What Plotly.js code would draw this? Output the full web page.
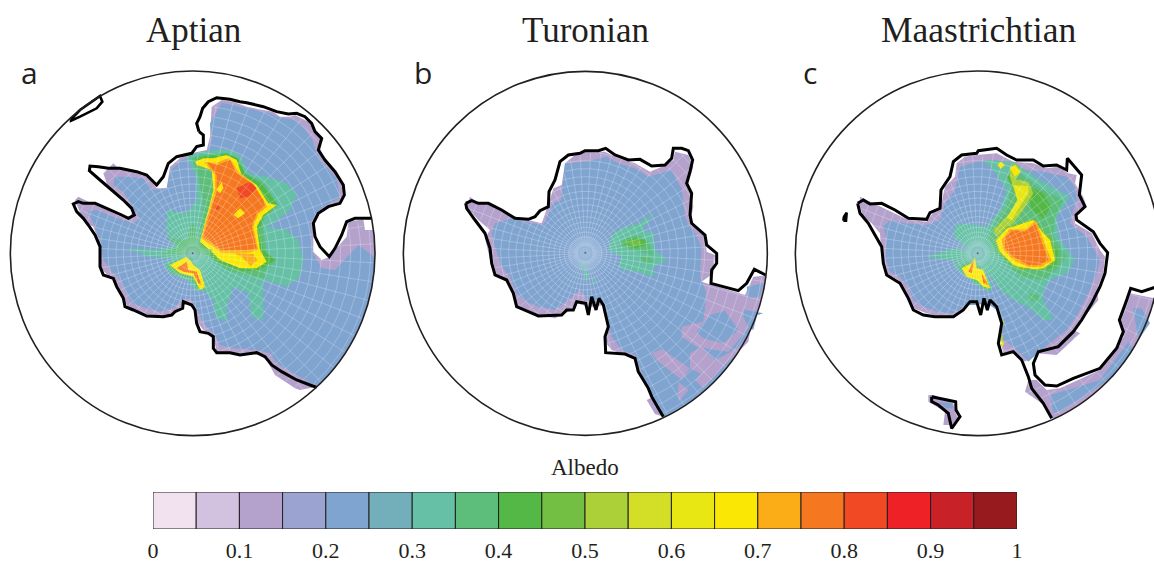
<!DOCTYPE html>
<html><head><meta charset="utf-8">
<script src="https://cdn.plot.ly/plotly-3.0.1.min.js"></script>
<style>html,body{margin:0;padding:0;background:#fff}#c{width:1154px;height:564px}</style>
</head><body><div id="c"></div><script>
// ---- colour bar ----
const binColors=['#f2e1ee','#d2c2df','#b4a2cd','#9ba3d0','#80a4d0','#73aebb','#65c0a6','#5dbd7a','#54b847','#72bf44','#acd037','#d2df26','#e8e714','#fbe704','#fbad18','#f57821','#f04923','#ee2126','#c92128','#971b1e'];
const binCentres=[.025,.075,.125,.175,.225,.275,.325,.375,.425,.475,.525,.575,.625,.675,.725,.775,.825,.875,.925,.975];
const tickValues=[0,.1,.2,.3,.4,.5,.6,.7,.8,.9,1];
const tickLabels=['0','0.1','0.2','0.3','0.4','0.5','0.6','0.7','0.8','0.9','1'];
const L=2,B=4,T=6,G=7,H=8,M=9,Y=13,O=14,R=15,D=16;
// ---- map read-offs (3x crop coordinates), circle centres ----
const circleA=[578,580,547],circleB=[571,580,546],circleC=[593,580,547];
// Aptian
const aCoast1=[[597,215],[590,190],[600,170],[608,145],[625,125],[650,113],[690,118],[720,125],[740,128],[790,140],[830,155],[865,162],[890,160],[915,170],[935,190],[945,215],[965,235],[955,270],[975,300],[1005,335],[1030,375],[1033,405],[1020,430],[985,440],[955,460],[940,490],[945,530],[960,560],[988,590],[1005,565],[1025,525],[1040,485],[1065,475],[1113,475]];
const aCoast2=[[950,982],[930,975],[890,960],[845,935],[815,915],[795,890],[770,878],[720,885],[690,878],[650,878],[640,865],[640,830],[625,820],[600,815],[590,790],[585,750],[575,735],[550,725],[548,745],[525,755],[515,765],[490,770],[440,768],[400,750],[375,740],[370,715],[350,680],[340,655],[310,645],[300,620],[300,560],[285,525],[265,495],[250,475],[230,455],[220,432],[235,425],[250,430],[285,430],[320,445],[365,465],[385,475],[403,465],[395,445],[370,420],[335,390],[300,360],[268,332],[270,318],[295,320],[325,325],[360,325],[410,335],[440,345],[470,375],[490,350],[505,310],[530,290],[575,280],[590,260],[610,255],[610,225],[597,215]];
const aIsland=[[213,178],[240,150],[300,108],[307,125],[290,145],[240,170],[213,182],[213,178]];
const aLilac1=[[635,140],[665,120],[700,125],[740,140],[790,150],[820,155],[840,170],[870,170],[885,165],[925,185],[955,220],[970,235],[958,260],[975,300],[1005,340],[1030,380],[1025,425],[1000,435],[955,460],[940,500],[940,575],[965,600],[990,590],[1005,570],[1040,530],[1045,485],[1090,478],[1095,510],[1118,510]];
const aLilac2=[[950,980],[900,990],[885,985],[825,945],[800,900],[770,880],[740,885],[690,880],[650,875],[640,830],[610,810],[595,790],[585,750],[570,735],[550,735],[520,760],[490,775],[440,765],[390,750],[370,720],[350,670],[330,650],[300,625],[300,590],[295,540],[280,500],[260,490],[245,470],[225,420],[235,410],[285,435],[345,460],[390,470],[400,450],[360,410],[320,370],[310,340],[340,310],[355,325],[410,335],[440,345],[470,385],[500,385],[510,320],[540,295],[575,280],[620,270],[630,230],[635,140]];
const aBlue1=[[650,155],[665,128],[740,145],[810,160],[830,170],[885,180],[905,195],[935,235],[948,275],[965,305],[1010,355],[1020,415],[975,437],[945,462],[932,490],[938,578],[965,625],[1005,630],[1075,555],[1122,590]];
const aBlue2=[[950,975],[935,972],[890,945],[830,910],[810,880],[770,870],[700,865],[660,855],[645,825],[620,800],[605,780],[590,745],[570,715],[545,720],[520,745],[480,755],[440,745],[395,730],[375,690],[355,650],[335,635],[310,600],[300,540],[280,490],[262,455],[290,450],[350,475],[400,490],[420,475],[400,445],[370,395],[340,375],[345,350],[380,350],[430,355],[460,390],[500,385],[512,330],[545,300],[575,290],[620,280],[635,240],[630,190],[650,155]];
const aBands=[
[T,[[560,290],[600,275],[680,268],[720,285],[745,340],[800,350],[860,370],[890,405],[870,450],[820,490],[800,500],[860,510],[895,540],[910,600],[900,650],[860,680],[790,660],[790,700],[790,780],[755,770],[745,700],[700,680],[680,740],[680,785],[645,770],[640,720],[610,690],[590,640],[540,600],[450,590],[380,565],[470,570],[530,555],[500,520],[500,450],[560,460],[590,420],[590,350]]],
[G,[[575,295],[600,285],[680,280],[710,295],[730,340],[790,365],[835,435],[790,480],[790,510],[800,580],[830,600],[790,640],[800,655],[760,650],[680,630],[640,600],[610,575],[590,560],[585,500],[575,490],[560,540],[500,535],[540,560],[480,585],[590,570],[610,430],[595,350]]],
[H,[[585,300],[610,290],[680,280],[715,295],[735,340],[785,372],[832,432],[792,470],[778,510],[790,570],[825,600],[775,632],[720,632],[650,605],[600,560],[625,450],[640,390],[635,330]]],
[Y,[[585,305],[610,295],[640,295],[680,285],[710,300],[725,345],[770,375],[805,430],[830,435],[790,465],[770,500],[780,570],[800,605],[770,625],[720,625],[660,600],[640,580],[600,545],[625,450],[640,390],[635,330],[590,315]]],
[O,[[612,305],[650,308],[688,293],[715,335],[762,372],[795,425],[802,440],[775,462],[760,500],[775,570],[745,578],[665,578],[604,535],[633,430],[645,390],[645,345]]],
[R,[[620,305],[650,315],[690,300],[710,340],[760,375],[790,420],[795,440],[770,460],[755,500],[770,565],[745,570],[665,570],[610,530],[640,430],[650,390],[650,345]]],
[Y,[[650,390],[665,365],[670,385],[660,400]]],
[Y,[[700,465],[720,445],[735,460],[715,475]]],
[D,[[710,385],[750,365],[770,385],[745,410],[720,415]]],
[D,[[645,440],[655,435],[660,445],[650,450]]],
[O,[[700,580],[760,582],[772,600],[752,618],[725,590]]],
[T,[[490,610],[540,590],[590,590],[620,690],[590,695],[560,660],[510,640]]],
[G,[[500,615],[540,595],[575,590],[618,685],[600,692],[570,655],[520,640]]],
[Y,[[510,615],[540,600],[560,590],[570,600],[580,615],[600,630],[615,680],[600,690],[580,650],[540,640]]],
[R,[[530,625],[560,605],[565,630],[590,635],[605,675],[595,670],[580,640],[550,635]]],
[G,[[490,582],[560,575],[580,490],[585,560],[640,570],[600,585]]]
];
const aPole=[[578,580]];
// Turonian
const bCoast1=[[212,430],[230,422],[250,430],[280,430],[320,450],[360,475],[400,478],[420,470],[435,452],[460,440],[462,395],[480,360],[495,305],[520,285],[555,280],[570,272],[610,272],[632,265],[660,285],[700,300],[735,298],[770,318],[810,315],[830,295],[835,265],[860,265],[880,272],[893,300],[885,335],[875,370],[890,400],[885,465],[890,490],[930,525],[935,555],[965,580],[965,610],[950,630],[948,670],[1030,692],[1055,670],[1078,628],[1112,645]];
const bCoast2=[[805,1070],[790,1045],[770,1010],[760,985],[730,935],[720,895],[690,882],[632,878],[630,830],[640,800],[625,735],[612,715],[603,750],[590,710],[580,765],[572,730],[545,725],[535,750],[515,750],[500,765],[430,768],[400,755],[365,740],[355,700],[335,660],[300,645],[290,610],[285,565],[270,520],[240,480],[215,445],[212,430]];
const bLilac1=[[225,410],[250,430],[290,435],[345,465],[400,480],[440,490],[465,420],[475,385],[500,375],[510,310],[540,285],[570,275],[630,275],[670,295],[720,310],[765,335],[800,320],[835,300],[840,275],[880,285],[895,320],[880,370],[895,440],[885,490],[930,530],[935,575],[960,585],[955,640],[920,665],[1050,705],[1075,650],[1112,645]];
const bLilac2=[[805,1070],[780,1062],[755,1020],[775,1010],[745,960],[725,935],[720,890],[690,885],[650,870],[630,845],[640,800],[625,735],[600,740],[580,740],[545,730],[520,755],[480,775],[430,765],[400,750],[360,735],[350,690],[330,655],[305,650],[290,620],[270,535],[285,510],[250,480],[215,440],[225,410]];
const bBlue1=[[300,490],[350,475],[410,490],[445,495],[475,430],[498,420],[510,310],[570,305],[635,290],[670,310],[720,325],[760,350],[830,330],[850,370],[860,385],[870,470],[880,495],[895,510],[920,560],[915,650],[935,700],[1000,740],[1105,760]];
const bBlue2=[[805,1065],[780,1020],[745,950],[720,885],[680,870],[650,830],[630,760],[620,720],[590,735],[555,690],[520,720],[480,750],[430,740],[395,725],[365,700],[345,650],[320,620],[300,560],[290,520],[300,490]];
const bPatches=[
[[935,685],[1052,708],[1045,770],[1062,800],[1035,835],[1000,875],[960,870],[905,860],[860,830],[860,800],[925,785],[930,745]],
[[770,880],[800,868],[885,925],[860,960],[835,940],[790,905]],
[[885,880],[920,860],[960,900],[925,945],[885,925]],
[[850,965],[880,990],[850,1025]],
[[960,900],[1000,880],[1030,860],[1065,815],[1060,845],[1000,905],[960,945],[925,985],[900,960]]
];
const bBluePatches=[[[945,765],[990,752],[1030,810],[985,850],[925,835],[905,815]],[[1055,680],[1105,670],[1095,710],[1060,715]],[[1045,770],[1090,750],[1075,810],[1060,800]]];
const bBands=[
[T,[[650,525],[680,505],[730,490],[780,458],[740,510],[775,520],[780,570],[815,600],[770,625],[780,650],[720,635],[670,625],[680,590],[640,570]]],
[G,[[670,555],[690,535],[730,525],[760,545],[775,585],[750,580],[710,570]]],
[H,[[680,550],[720,535],[750,540],[755,555],[720,565]]],
[M,[[695,550],[720,540],[745,545],[720,558]]],
[G,[[730,590],[760,590],[780,605],[750,610]]],
[T,[[572,600],[580,655],[565,655]]],
[T,[[585,640],[605,675],[595,670]]],
[T,[[550,625],[565,600],[562,625]]]
];
const bPole=[[571,578]];
// Maastrichtian
const cCoast1=[[233,430],[250,420],[270,432],[305,430],[345,450],[385,475],[440,478],[450,458],[480,445],[483,390],[510,350],[520,305],[545,285],[590,280],[595,272],[650,265],[680,285],[710,300],[760,300],[790,318],[830,315],[860,330],[862,295],[905,345],[898,405],[915,440],[888,465],[890,480],[940,515],[960,550],[983,578],[975,640],[960,680],[935,730],[905,780],[880,815],[835,860],[775,875],[760,910],[765,945],[795,975],[830,978],[880,955],[960,925],[1010,865],[1030,815],[1018,780],[1040,720],[1052,685],[1085,695],[1125,682]];
const cCoast2=[[815,1075],[790,1030],[755,985],[745,950],[725,900],[700,875],[665,885],[655,850],[665,790],[650,740],[630,720],[622,750],[612,715],[602,765],[590,725],[570,725],[550,750],[520,770],[465,770],[430,765],[400,750],[385,715],[360,670],[320,645],[310,610],[305,560],[265,490],[240,460],[233,430]];
const cIsland1=[[455,1010],[527,1025],[528,1050],[540,1070],[515,1105],[505,1060],[475,1035],[455,1025],[455,1010]];
const cIsland2=[[190,482],[192,470],[200,458],[198,482],[190,482]];
const cLilacIsland=[[445,1005],[462,1005],[520,1030],[525,1055],[535,1075],[515,1095],[490,1095],[495,1055],[445,1025]];
const cBlueIsland=[[475,1025],[515,1030],[520,1045],[500,1045]];
const cLilac=[[240,410],[260,420],[305,440],[345,460],[385,480],[440,485],[465,450],[480,450],[495,380],[525,350],[530,310],[555,290],[590,285],[650,280],[700,305],[760,310],[800,325],[835,320],[865,340],[890,345],[885,370],[910,410],[920,440],[885,465],[885,490],[935,520],[960,570],[975,590],[970,640],[950,690],[955,720],[930,750],[880,810],[900,820],[830,885],[770,880],[735,905],[700,875],[670,880],[660,840],[665,790],[650,740],[620,730],[590,725],[565,735],[540,760],[500,775],[440,760],[400,745],[380,700],[355,660],[320,640],[305,590],[300,520],[275,490],[250,470],[240,440],[240,410]];
const cBlue=[[330,480],[375,490],[440,495],[480,480],[495,430],[525,390],[540,320],[590,305],[650,300],[700,325],[790,335],[860,350],[885,380],[890,420],[880,450],[870,490],[920,530],[945,575],[960,600],[950,640],[930,690],[895,760],[860,810],[790,865],[745,905],[700,860],[670,840],[660,780],[650,750],[620,730],[590,735],[560,735],[520,760],[470,755],[430,740],[400,720],[385,680],[360,650],[330,635],[315,590],[320,540],[310,500],[330,480]];
const cStrip1=[[1050,700],[1125,715]];
const cStrip2=[[815,1075],[800,1040],[735,995],[745,960],[770,960],[800,990],[840,985],[960,930],[1030,830],[1020,780],[1050,700]];
const cStripBlue=[[[1060,745],[1085,745],[1110,790],[1075,840]],[[960,960],[1045,845],[1060,870],[1000,950],[850,1050],[820,1060],[810,1005],[880,985]]];
const cBands=[
[T,[[610,300],[700,305],[780,360],[870,410],[830,470],[835,530],[885,600],[860,640],[810,660],[790,690],[790,720],[820,780],[790,780],[750,745],[700,720],[660,690],[640,660],[600,620],[530,605],[440,590],[520,565],[570,570],[520,530],[530,490],[590,495],[620,500],[660,450],[680,390],[640,330]]],
[G,[[625,530],[650,480],[680,440],[695,380],[680,340],[720,340],[780,385],[850,420],[825,470],[820,530],[860,590],[830,630],[790,660],[720,650],[680,610],[640,570]]],
[H,[[750,380],[790,400],[812,440],[790,475],[755,450],[745,410]]],
[H,[[795,530],[835,570],[830,615],[800,630]]],
[H,[[680,350],[700,340],[760,400],[730,450],[695,490],[650,525],[640,510],[695,460],[715,420]]],
[10,[[690,320],[708,312],[725,335],[705,358],[745,365],[760,400],[730,450],[700,490],[650,530],[640,510],[690,460],[712,420],[700,385],[690,350]]],
[Y,[[690,325],[705,315],[720,335],[705,350]]],
[Y,[[652,315],[662,305],[675,316],[662,326]]],
[12,[[700,375],[745,378],[745,400],[720,440],[695,480],[680,475],[712,420]]],
[M,[[645,540],[680,500],[700,495],[762,476],[795,515],[815,535],[830,600],[795,628],[740,635],[700,618],[655,578]]],
[Y,[[648,540],[682,505],[700,500],[760,480],[790,520],[810,540],[825,600],[790,625],[740,630],[700,615],[660,575]]],
[O,[[665,540],[688,508],[735,508],[768,482],[792,545],[815,602],[785,620],[745,622],[700,600],[668,568]]],
[R,[[675,535],[695,510],[735,515],[765,490],[785,545],[805,600],[780,615],[745,615],[700,590],[675,565]]],
[G,[[700,625],[750,625],[800,645],[805,655],[740,640]]],
[M,[[710,620],[745,625],[760,630],[720,632]]],
[G,[[745,700],[775,705],[775,725],[750,720]]],
[10,[[655,760],[672,785],[665,810],[672,855],[662,860],[665,790]]],
[Y,[[662,840],[672,850],[665,860]]],
[T,[[520,615],[590,580],[640,685],[625,695],[575,665]]],
[G,[[535,620],[585,590],[635,688],[620,690],[575,660]]],
[Y,[[545,625],[575,610],[585,590],[590,625],[610,630],[630,685],[610,680],[590,660],[560,650]]],
[R,[[565,635],[582,598],[575,640]]],
[R,[[605,640],[625,675],[610,670]]]
];
const cPole=[[593,580]];
// graticule spokes (deg) and rings (crop px from the pole)
const spokeAngles=[];for(let d=0;d<360;d+=6)spokeAngles.push(d);
const ringRadii=[50,64,78,94,110,128,146,166,186,208,230,254,278,304,330,358,386,414,444,474,504,534];
// pale halo radii around each pole
const haloA=[10,18,26],haloB=[18,34,50],haloC=[14,26,38];

function arc(c,a0,a1){const o=[];for(let a=a0;a<=a1;a+=2){const t=a*Math.PI/180;o.push([c[0]+c[2]*Math.cos(t),c[1]+c[2]*Math.sin(t)]);}return o;}
function inside(p,poly){let r=false;for(let i=0,j=poly.length-1;i<poly.length;j=i++){const a=poly[i],b=poly[j];if((a[1]>p[1])!==(b[1]>p[1])&&p[0]<(b[0]-a[0])*(p[1]-a[1])/(b[1]-a[1])+a[0])r=!r;}return r;}
function poly(pts,color,ax){return{type:'scatter',mode:'lines',x:pts.map(p=>p[0]),y:pts.map(p=>p[1]),fill:'toself',fillcolor:color,line:{width:0},xaxis:ax[0],yaxis:ax[1],hoverinfo:'skip',showlegend:false};}
function line(pts,ax,w,col){return{type:'scatter',mode:'lines',x:pts.map(p=>p[0]),y:pts.map(p=>p[1]),line:{width:w||3,color:col||'#000',simplify:false},xaxis:ax[0],yaxis:ax[1],hoverinfo:'skip',showlegend:false};}
function grid(c,polys,ax){const xs=[],ys=[];const test=p=>polys.some(q=>inside(p,q))&&Math.hypot(p[0]-c[0],p[1]-c[1])<c[2];
 const push=p=>{if(test(p)){xs.push(p[0]);ys.push(p[1]);}else if(xs[xs.length-1]!==null){xs.push(null);ys.push(null);}};
 spokeAngles.forEach(d=>{const t=(d+3)*Math.PI/180;for(let r=22;r<560;r+=5)push([c[0]+r*Math.cos(t),c[1]+r*Math.sin(t)]);xs.push(null);ys.push(null);});
 ringRadii.forEach(r=>{for(let d=0;d<=360;d+=1.5){const t=d*Math.PI/180;push([c[0]+r*Math.cos(t),c[1]+r*Math.sin(t)]);}xs.push(null);ys.push(null);});
 return{type:'scatter',mode:'lines',x:xs,y:ys,line:{width:.7,color:'rgba(255,255,255,0.34)'},connectgaps:false,xaxis:ax[0],yaxis:ax[1],hoverinfo:'skip',showlegend:false};}

const traces=[];
const A=['x','y'],Bx=['x2','y2'],C=['x3','y3'];
const col=i=>binColors[i];
// panel a
const aLil=[...aLilac1,...arc(circleA,-6,47),...aLilac2], aBl=[...aBlue1,...arc(circleA,2,47),...aBlue2];
traces.push(poly(aLil,col(L),A),poly(aBl,col(B),A));
aBands.forEach(b=>traces.push(poly(b[1],col(b[0]),A)));
traces.push(grid(circleA,[aLil],A));
traces.push(line(aCoast1,A),line(aCoast2,A),line(aIsland,A,2.6));
// panel b
const bLil=[...bLilac1,...arc(circleB,7,65),...bLilac2], bBl=[...bBlue1,...arc(circleB,20,65),...bBlue2];
traces.push(poly(bLil,col(L),Bx),poly(bBl,col(B),Bx));
bPatches.forEach(p=>traces.push(poly(p,col(L),Bx)));
bBluePatches.forEach(p=>traces.push(poly(p,col(B),Bx)));
bBands.forEach(b=>traces.push(poly(b[1],col(b[0]),Bx)));
traces.push(grid(circleB,[bLil],Bx));
traces.push(line(bCoast1,Bx),line(bCoast2,Bx));
// panel c
const cStr=[...cStrip1,...arc(circleC,15,66),...cStrip2];
traces.push(poly(cLilac,col(L),C),poly(cStr,col(L),C),poly(cLilacIsland,col(L),C),poly(cBlue,col(B),C));
cStripBlue.forEach(p=>traces.push(poly(p,col(B),C)));
traces.push(poly(cBlueIsland,col(B),C));
cBands.forEach(b=>traces.push(poly(b[1],col(b[0]),C)));
traces.push(grid(circleC,[cLilac,cStr],C));
traces.push(line(cCoast1,C),line(cCoast2,C),line(cIsland1,C),line(cIsland2,C,2.6));
// poles
[[aPole,A],[bPole,Bx],[cPole,C]].forEach(e=>traces.push({type:'scatter',mode:'markers',x:e[0].map(p=>p[0]),y:e[0].map(p=>p[1]),marker:{size:2,color:'#000'},xaxis:e[1][0],yaxis:e[1][1],hoverinfo:'skip',showlegend:false}));
// colour bar
traces.push({type:'bar',x:binCentres,y:binCentres.map(()=>1),width:binCentres.map(()=>.05),marker:{color:binColors,line:{color:'#231f20',width:1}},xaxis:'x4',yaxis:'y4',hoverinfo:'skip',showlegend:false});

const W=1154,Ht=564;
const hide={visible:false,fixedrange:true};
const dom=(x0,x1,y0,y1)=>({x:[x0/W,x1/W],y:[1-y1/Ht,1-y0/Ht]});
const da=dom(0,390,60,450),db=dom(395,780,60,450),dc=dom(780,1154,60,450),dk=dom(153,1017,492,529);
const circ=(c,xr,yr)=>({type:'circle',xref:xr,yref:yr,x0:c[0]-c[2],x1:c[0]+c[2],y0:c[1]-c[2],y1:c[1]+c[2],line:{color:'#231f20',width:1.6},layer:'above'});
const halo=(c,radii,xr,yr)=>radii.map(r=>({type:'circle',xref:xr,yref:yr,x0:c[0]-r,x1:c[0]+r,y0:c[1]-r,y1:c[1]+r,fillcolor:'rgba(190,210,235,0.2)',line:{width:0},layer:'above'}));
const serif='"Liberation Serif","Times New Roman",serif',sans='"Open Sans","Noto Sans",sans-serif';
const note=(t,x,y,s,f,col)=>({text:t,xref:'paper',yref:'paper',x:x/W,y:1-y/Ht,showarrow:false,xanchor:'center',yanchor:'middle',font:{size:s,family:f,color:col||'#231f20'}});
const layout={width:W,height:Ht,margin:{l:0,r:0,t:0,b:0},paper_bgcolor:'#fff',plot_bgcolor:'rgba(0,0,0,0)',showlegend:false,hovermode:false,
 xaxis:{...hide,domain:da.x,range:[0,1170],anchor:'y'},yaxis:{...hide,domain:da.y,range:[1170,0],anchor:'x'},
 xaxis2:{...hide,domain:db.x,range:[0,1155],anchor:'y2'},yaxis2:{...hide,domain:db.y,range:[1170,0],anchor:'x2'},
 xaxis3:{...hide,domain:dc.x,range:[0,1122],anchor:'y3'},yaxis3:{...hide,domain:dc.y,range:[1170,0],anchor:'x3'},
 xaxis4:{domain:dk.x,range:[0,1],anchor:'y4',tickmode:'array',tickvals:tickValues,ticktext:tickLabels,ticks:'',showgrid:false,zeroline:false,showline:false,tickangle:0,fixedrange:true,ticklabelstandoff:6,automargin:false,tickfont:{family:serif,size:22,color:'#231f20'}},
 yaxis4:{...hide,domain:dk.y,range:[0,1],anchor:'x4'},
 shapes:[circ(circleA,'x','y'),circ(circleB,'x2','y2'),circ(circleC,'x3','y3'),...halo(circleA,haloA,'x','y'),...halo(circleB,haloB,'x2','y2'),...halo(circleC,haloC,'x3','y3')],
 annotations:[note('Aptian',193,30,35,serif),note('Turonian',585,30,35,serif),note('Maastrichtian',978,30,35.5,serif),note('a',29,73,30,sans),note('b',423,73,30,sans),note('c',810,73,30,sans),note('Albedo',585,467,23,serif)]};
Plotly.newPlot('c',traces,layout,{staticPlot:true,displayModeBar:false});
</script></body></html>
